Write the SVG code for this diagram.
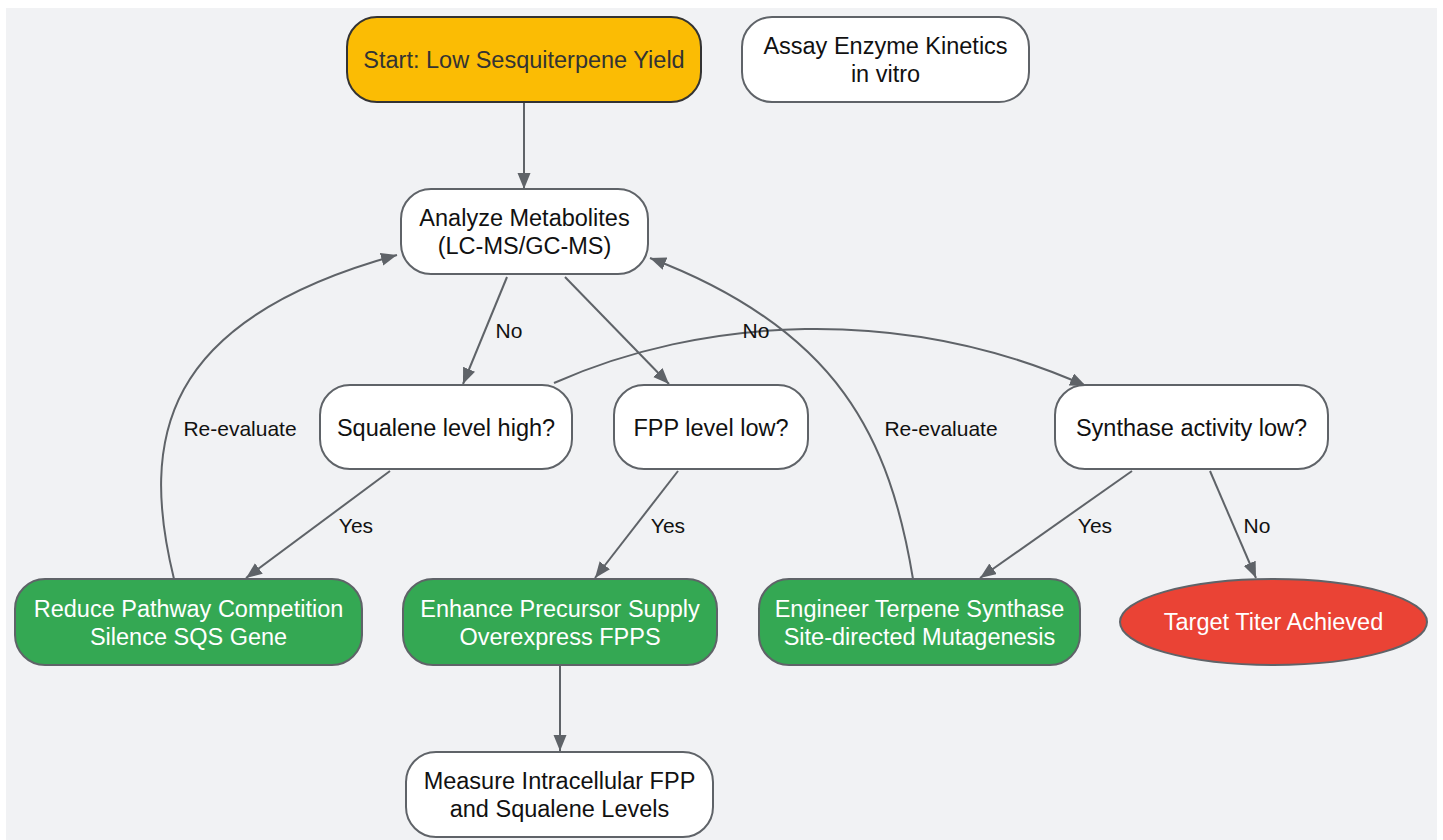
<svg xmlns="http://www.w3.org/2000/svg" width="1443" height="840" viewBox="0 0 1443 840">
<defs>
<marker id="arr" markerUnits="userSpaceOnUse" markerWidth="18" markerHeight="14" refX="16" refY="6.5" orient="auto">
<path d="M0,0 L16,6.5 L0,13 z" fill="#5f6368"/>
</marker>
<style>
.n{stroke:#5f6368;stroke-width:2}
.w{fill:#ffffff}
.g{fill:#34a853}
.t{font-family:"Liberation Sans",Arial,sans-serif;font-size:23.5px;text-anchor:middle;dominant-baseline:central;fill:#111}
.tw{fill:#ffffff}
.e{fill:none;stroke:#5f6368;stroke-width:2;marker-end:url(#arr)}
.l{font-family:"Liberation Sans",Arial,sans-serif;font-size:21px;text-anchor:middle;dominant-baseline:central;fill:#111}
</style>
</defs>
<rect x="6" y="8" width="1431" height="832" fill="#f1f2f4"/>
<g id="connectors">
<path class="e" d="M524,103 L524,189"/>
<path class="e" d="M507,277 L463,384"/>
<path class="e" d="M565,277 L669,384"/>
<path class="e" d="M554,383 C700,318 900,303 1086,386"/>
<path class="e" d="M390,471 L246,578"/>
<path class="e" d="M678,471 L595,578"/>
<path class="e" d="M1132,471 L980,578"/>
<path class="e" d="M1210,471 L1256,578"/>
<path class="e" d="M174,579 C140,440 160,320 397,255"/>
<path class="e" d="M913,579 C890,440 840,330 650,258"/>
<path class="e" d="M560,666 L560,751"/>
<text class="l" x="509" y="330">No</text>
<text class="l" x="756" y="330">No</text>
<text class="l" x="356" y="525">Yes</text>
<text class="l" x="668" y="525">Yes</text>
<text class="l" x="1095" y="525">Yes</text>
<text class="l" x="1257" y="525">No</text>
<text class="l" x="240" y="428">Re-evaluate</text>
<text class="l" x="941" y="428">Re-evaluate</text>
</g>
<g id="start">
<rect x="347" y="17" width="354" height="85" rx="30" fill="#fbbc04" stroke="#333" stroke-width="2"/>
<text class="t" x="524" y="60" style="fill:#333">Start: Low Sesquiterpene Yield</text>
</g>
<g id="assay">
<rect class="n w" x="742" y="17" width="287" height="85" rx="30"/>
<text class="t" x="885.5" y="46">Assay Enzyme Kinetics</text>
<text class="t" x="885.5" y="74">in vitro</text>
</g>
<g id="analyze">
<rect class="n w" x="401" y="189" width="247" height="85" rx="30"/>
<text class="t" x="524.5" y="218">Analyze Metabolites</text>
<text class="t" x="524.5" y="246">(LC-MS/GC-MS)</text>
</g>
<g id="squalene">
<rect class="n w" x="320" y="385" width="252" height="84" rx="30"/>
<text class="t" x="446" y="428">Squalene level high?</text>
</g>
<g id="fpp">
<rect class="n w" x="614" y="385" width="194" height="84" rx="30"/>
<text class="t" x="711" y="428">FPP level low?</text>
</g>
<g id="synthase">
<rect class="n w" x="1055" y="385" width="273" height="84" rx="30"/>
<text class="t" x="1191.5" y="428">Synthase activity low?</text>
</g>
<g id="reduce">
<rect class="n g" x="15" y="579" width="347" height="86" rx="30"/>
<text class="t tw" x="188.5" y="609">Reduce Pathway Competition</text>
<text class="t tw" x="188.5" y="637">Silence SQS Gene</text>
</g>
<g id="enhance">
<rect class="n g" x="403" y="579" width="314" height="86" rx="30"/>
<text class="t tw" x="560" y="609">Enhance Precursor Supply</text>
<text class="t tw" x="560" y="637">Overexpress FPPS</text>
</g>
<g id="engineer">
<rect class="n g" x="759" y="579" width="321" height="86" rx="30"/>
<text class="t tw" x="919.5" y="609">Engineer Terpene Synthase</text>
<text class="t tw" x="919.5" y="637">Site-directed Mutagenesis</text>
</g>
<g id="target">
<ellipse class="n" cx="1273.5" cy="622" rx="153.5" ry="43" fill="#ea4335"/>
<text class="t tw" x="1273.5" y="622">Target Titer Achieved</text>
</g>
<g id="measure">
<rect class="n w" x="406" y="752" width="307" height="85" rx="30"/>
<text class="t" x="559.5" y="781">Measure Intracellular FPP</text>
<text class="t" x="559.5" y="809">and Squalene Levels</text>
</g>
</svg>
